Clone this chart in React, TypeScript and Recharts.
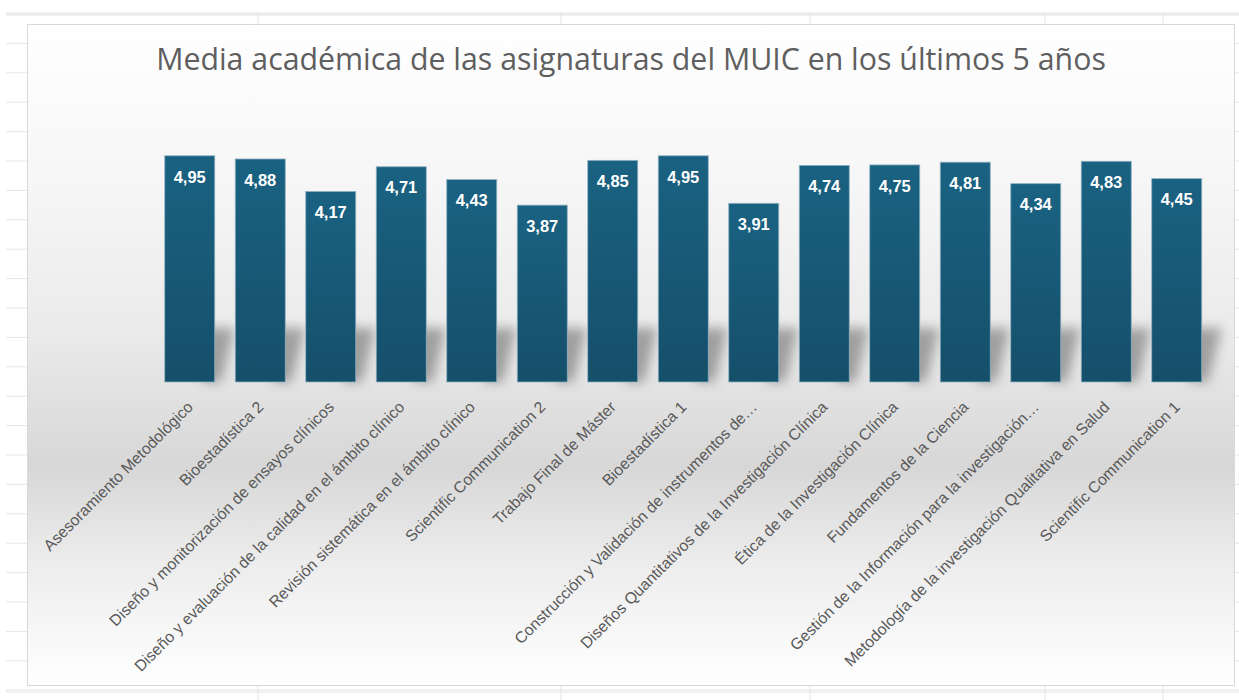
import { BarChart, Bar, XAxis, YAxis, LabelList } from "recharts"

const asignaturas = [
  "Asesoramiento Metodológico",
  "Bioestadística 2",
  "Diseño y monitorización de ensayos clínicos",
  "Diseño y evaluación de la calidad en el ámbito clínico",
  "Revisión sistemática en el ámbito clínico",
  "Scientific Communication 2",
  "Trabajo Final de Máster",
  "Bioestadística 1",
  "Construcción y Validación de instrumentos de…",
  "Diseños Quantitativos de la Investigación Clínica",
  "Ética de la Investigación Clínica",
  "Fundamentos de la Ciencia",
  "Gestión de la Información para la investigación…",
  "Metodología de la investigación Qualitativa en Salud",
  "Scientific Communication 1",
]

const medias = [4.95, 4.88, 4.17, 4.71, 4.43, 3.87, 4.85, 4.95, 3.91, 4.74, 4.75, 4.81, 4.34, 4.83, 4.45]

const data = asignaturas.map((nombre, i) => ({ nombre, media: medias[i] }))

const gridCols = [258, 561, 810, 1045, 1163]
const gridRows = Array.from({ length: 23 }, (_, k) => 14 + k * 29.4)

const fmt = (v: any) => Number(v).toFixed(2).replace(".", ",")

const AxisTick = (props: any) => {
  const { x, y, payload } = props
  const tx = x + 4
  const ty = y + 18
  return (
    <text
      x={tx}
      y={ty}
      transform={`rotate(-45, ${tx}, ${ty})`}
      textAnchor="end"
      fill="#595959"
      fontSize={15.8}
      fontFamily="'Liberation Sans', Arial, sans-serif"
    >
      {payload.value}
    </text>
  )
}

const ShadowBar = (props: any) => {
  const { x, y, width, height } = props
  const yb = y + height
  return (
    <g>
      <polygon
        points={`${x + width - 10},${yb} ${x + width + 6},${yb} ${x + width + 20},${yb - 54} ${x + 10},${yb - 54}`}
        fill="#3a3a3a"
        opacity={0.42}
        filter="url(#blurShadow)"
      />
      <rect x={x} y={y} width={width} height={height} fill="url(#barGrad)" stroke="#8fb1c2" strokeWidth={0.8} />
    </g>
  )
}

export default function App() {
  return (
    <div style={{ position: "absolute", left: 0, top: 0, width: 1239, height: 700, background: "#fff", overflow: "hidden" }}>
      <svg width={1239} height={700} style={{ position: "absolute", left: 0, top: 0 }}>
        <line x1={6} y1={13} x2={1239} y2={13} stroke="#e3e3e3" />
        <line x1={6} y1={15} x2={1239} y2={15} stroke="#e3e3e3" />
        <line x1={6} y1={690} x2={1239} y2={690} stroke="#e3e3e3" />
        <line x1={6} y1={692} x2={1239} y2={692} stroke="#e3e3e3" />
        {gridCols.map((c) => (
          <line key={c} x1={c} y1={12} x2={c} y2={700} stroke="#e3e3e3" />
        ))}
        {gridRows.map((r) => (
          <line key={r} x1={6} y1={r} x2={1239} y2={r} stroke="#e6e6e6" />
        ))}
      </svg>
      <div
        style={{
          position: "absolute",
          left: 27,
          top: 24,
          width: 1208,
          height: 662,
          border: "1px solid #d9d9d9",
          boxSizing: "border-box",
          background:
            "linear-gradient(to bottom, #ffffff 0%, #f6f6f6 24%, #ebebeb 46%, #d7d7d7 67%, #ececec 81%, #f9f9f9 94%, #ffffff 100%)",
        }}
      />
      <div
        style={{
          position: "absolute",
          left: 27,
          top: 39,
          width: 1208,
          textAlign: "center",
          fontFamily: "'Open Sans', sans-serif",
          fontSize: 30.3,
          color: "#5f5f5f",
          lineHeight: 1.3,
        }}
      >
        Media académica de las asignaturas del MUIC en los últimos 5 años
      </div>
      <div style={{ position: "absolute", left: 27, top: 24 }}>
        <BarChart
          width={1208}
          height={662}
          data={data}
          margin={{ top: 129.5, right: 22.75, left: 127.75, bottom: 14 }}
          barSize={50}
        >
          <defs>
            <linearGradient id="barGrad" x1="0" y1="0" x2="0" y2="1">
              <stop offset="0%" stopColor="#1a6282" />
              <stop offset="100%" stopColor="#154f6a" />
            </linearGradient>
            <filter id="blurShadow" x="-50%" y="-50%" width="200%" height="200%">
              <feGaussianBlur stdDeviation="6" />
            </filter>
          </defs>
          <XAxis
            dataKey="nombre"
            interval={0}
            axisLine={false}
            tickLine={false}
            height={290}
            tick={<AxisTick />}
          />
          <YAxis hide domain={[0, 5]} />
          <Bar dataKey="media" isAnimationActive={false} shape={<ShadowBar />}>
            <LabelList
              dataKey="media"
              position="insideTop"
              offset={15}
              formatter={fmt}
              fill="#ffffff"
              fontSize={16.5}
              fontWeight="bold"
              fontFamily="'Liberation Sans', Arial, sans-serif"
            />
          </Bar>
        </BarChart>
      </div>
    </div>
  )
}
